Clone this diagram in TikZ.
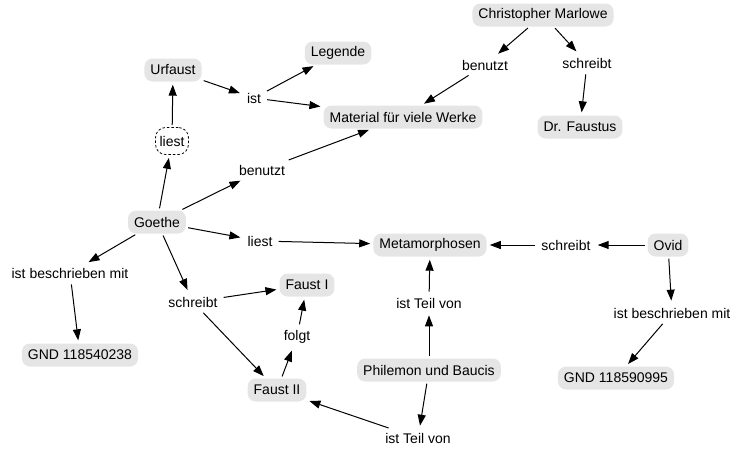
\documentclass[tikz,border=0pt]{standalone}
\usepackage{fontspec}
\setmainfont{Liberation Sans}
\usetikzlibrary{arrows.meta}

\begin{document}
\begin{tikzpicture}[x=1pt, y=-1pt,
    concept/.style={fill=black!10, rounded corners=8pt, inner xsep=6pt,
        minimum height=23pt, font=\fontsize{14}{16}\selectfont},
    link/.style={inner sep=4pt, font=\fontsize{14}{16}\selectfont},
    openlink/.style={draw, dash pattern=on 2.5pt off 2pt, line width=0.8pt,
        rounded corners=10pt, inner sep=4pt, minimum height=27pt,
        font=\fontsize{14}{16}\selectfont},
    rel/.style={-{Triangle[length=11pt, width=8pt]}, line width=1pt,
        shorten >=3pt, shorten <=2pt}]
    %% Faust concept map

    % Frame
    \useasboundingbox (0,0) rectangle (730,450);

    % Concepts
    \node[concept] (marlowe) at (543,15) {Christopher Marlowe};
    \node[concept] (drfaustus) at (580,127) {Dr. Faustus};
    \node[concept] (urfaust) at (173,70) {Urfaust};
    \node[concept] (legende) at (338,53) {Legende};
    \node[concept] (material) at (403,117) {Material für viele Werke};
    \node[concept] (goethe) at (157,222) {Goethe};
    \node[concept] (metam) at (430,245) {Metamorphosen};
    \node[concept] (ovid) at (668,245) {Ovid};
    \node[concept] (faustI) at (307,285) {Faust I};
    \node[concept] (gndG) at (80,355) {GND 118540238};
    \node[concept] (philemon) at (429,370) {Philemon und Baucis};
    \node[concept] (faustII) at (277,390) {Faust II};
    \node[concept] (gndO) at (616,378) {GND 118590995};

    % Linking phrases
    \node[link] (mBenutzt) at (485,65) {benutzt};
    \node[link] (mSchreibt) at (587,63) {schreibt};
    \node[link] (uIst) at (254,98) {ist};
    \node[openlink] (gLiestU) at (172,141) {liest};
    \node[link] (gBenutzt) at (262,170) {benutzt};
    \node[link] (gLiest) at (260,241) {liest};
    \node[link] (oSchreibt) at (566,245) {schreibt};
    \node[link] (gBeschr) at (70,273) {ist beschrieben mit};
    \node[link] (gSchreibt) at (193,302) {schreibt};
    \node[link] (folgt) at (297,337) {folgt};
    \node[link] (pTeilM) at (429,303) {ist Teil von};
    \node[link] (oBeschr) at (672,313) {ist beschrieben mit};
    \node[link] (pTeilF) at (418,438) {ist Teil von};

    % Relations
    \draw[rel] (marlowe) -- (mBenutzt);
    \draw[rel] (mBenutzt) -- (material);
    \draw[rel] (marlowe) -- (mSchreibt);
    \draw[rel] (mSchreibt) -- (drfaustus);
    \draw[rel] (urfaust) -- (uIst);
    \draw[rel] (uIst) -- (legende);
    \draw[rel] (uIst) -- (material);
    \draw[rel] (goethe) -- (gLiestU);
    \draw[rel] (gLiestU) -- (urfaust);
    \draw[rel] (goethe) -- (gBenutzt);
    \draw[rel] (gBenutzt) -- (material);
    \draw[rel] (goethe) -- (gLiest);
    \draw[rel] (gLiest) -- (metam);
    \draw[rel] (ovid) -- (oSchreibt);
    \draw[rel] (oSchreibt) -- (metam);
    \draw[rel] (ovid) -- (oBeschr);
    \draw[rel] (oBeschr) -- (gndO);
    \draw[rel] (goethe) -- (gBeschr);
    \draw[rel] (gBeschr) -- (gndG);
    \draw[rel] (goethe) -- (gSchreibt);
    \draw[rel] (gSchreibt) -- (faustI);
    \draw[rel] (gSchreibt) -- (faustII);
    \draw[rel] (faustII) -- (folgt);
    \draw[rel] (folgt) -- (faustI);
    \draw[rel] (philemon) -- (pTeilM);
    \draw[rel] (pTeilM) -- (metam);
    \draw[rel] (philemon) -- (pTeilF);
    \draw[rel] (pTeilF) -- (faustII);

\end{tikzpicture}
\end{document}
